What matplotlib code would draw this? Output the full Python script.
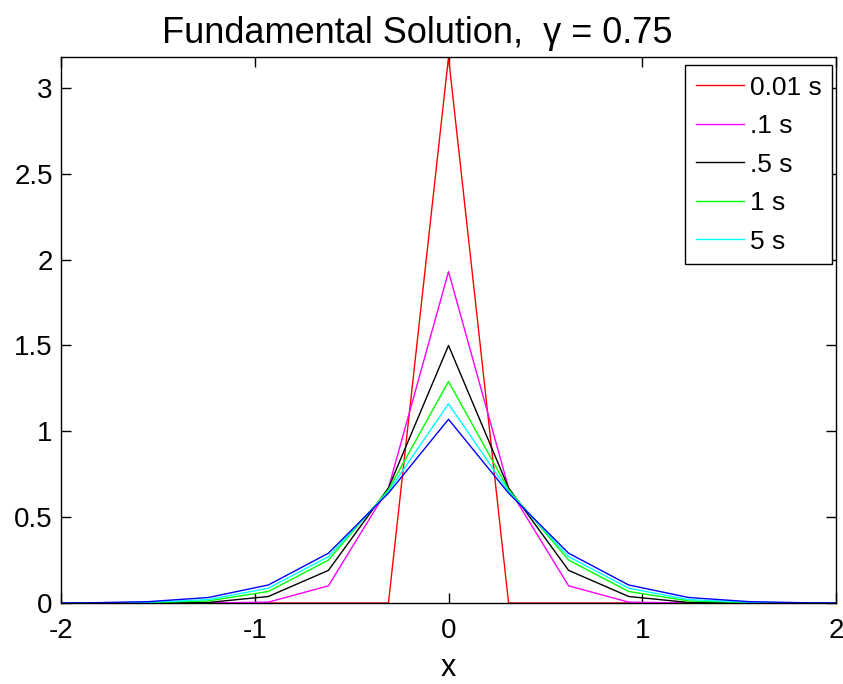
import matplotlib
matplotlib.use("Agg")
import matplotlib.pyplot as plt
import numpy as np

''' Dados lidos do grafico '''
dx = 0.31
k = np.arange(-7, 8)
x = k * dx

# valores para x >= 0 (simetricos)
half_001 = [3.18, 0.0, 0.0, 0.0, 0.0, 0.0, 0.0, 0.0]
half_01 = [1.93, 0.67, 0.10, 0.005, 0.0, 0.0, 0.0, 0.0]
half_05 = [1.50, 0.67, 0.19, 0.038, 0.003, 0.0, 0.0, 0.0]
half_1 = [1.29, 0.66, 0.25, 0.067, 0.012, 0.002, 0.0, 0.0]
half_5 = [1.16, 0.65, 0.27, 0.086, 0.02, 0.004, 0.0, 0.0]
half_inf = [1.07, 0.64, 0.29, 0.105, 0.032, 0.008, 0.001, 0.0]

labels = ['0.01 s', '.1 s', '.5 s', '1 s', '5 s']
colors = ['#ff0000', '#ff00ff', '#000000', '#00ff00', '#00ffff', '#0000ff']

def mirror(h):
    h = np.array(h)
    return np.concatenate([h[:0:-1], h])

series = [half_001, half_01, half_05, half_1, half_5, half_inf]

plt.rcParams['font.family'] = ['Liberation Sans', 'DejaVu Sans']
plt.rcParams['axes.unicode_minus'] = False

fig = plt.figure(figsize=(8.43, 6.84), dpi=100)
ax = fig.add_axes([0.0724, 0.1184, 0.9193, 0.7983])

lines = []
for s, c in zip(series, colors):
    l, = ax.plot(x, mirror(s), color=c, linewidth=1.0)
    lines.append(l)

ax.set_xlim(-2, 2)
ax.set_ylim(0, 3.18)
ax.set_xticks([-2, -1, 0, 1, 2])
ax.set_yticks([0, 0.5, 1, 1.5, 2, 2.5, 3])
ax.set_yticklabels(['0', '0.5', '1', '1.5', '2', '2.5', '3'])
ax.tick_params(direction='in', length=7, width=1, top=True, right=True,
               labelsize=20)
ax.tick_params(axis='x', pad=11)
ax.tick_params(axis='y', pad=6)
for sp in ax.spines.values():
    sp.set_linewidth(1.0)

ax.set_title('Fundamental Solution,  γ = 0.75', fontsize=26, pad=10, x=0.46)
ax.set_xlabel('x', fontsize=22, labelpad=6)

leg = ax.legend(lines[:5], labels, loc='upper right',
                bbox_to_anchor=(0.9948, 0.9853), borderaxespad=0,
                fontsize=19, fancybox=False, framealpha=1, edgecolor='black',
                handlelength=1.85, handletextpad=0.2,
                labelspacing=0.55, borderpad=0.4)
leg.get_frame().set_linewidth(1.0)

fig.savefig('out.png', dpi=100)
